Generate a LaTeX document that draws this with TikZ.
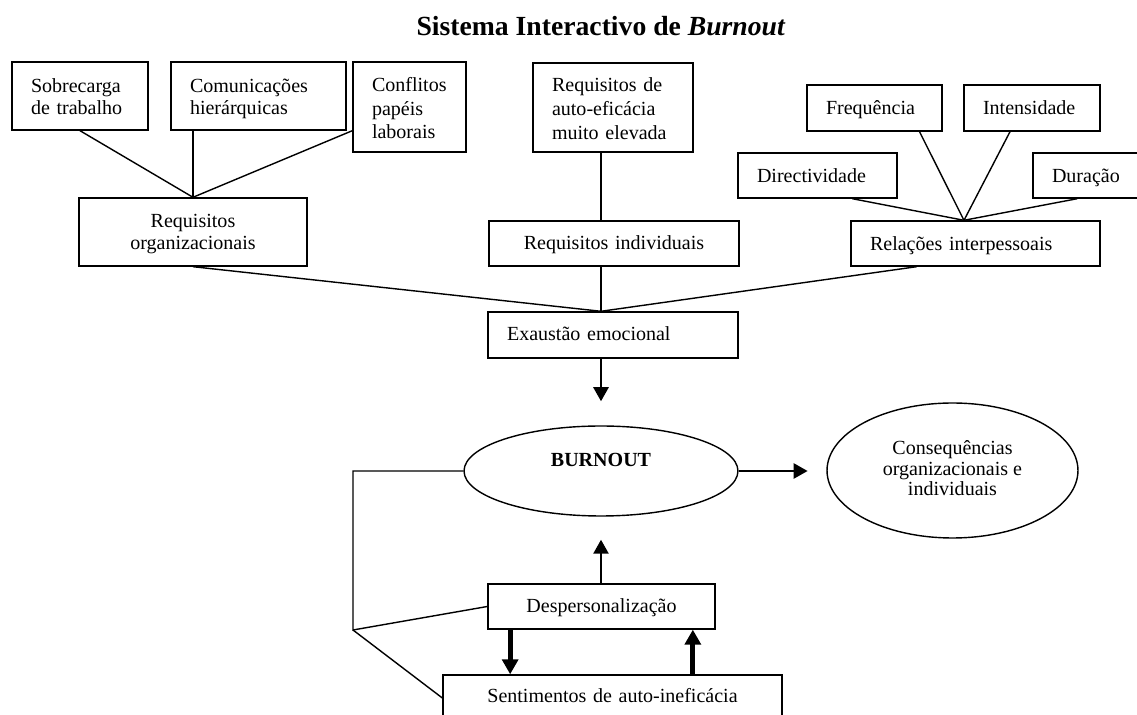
\documentclass[tikz,border=0pt]{standalone}
\usepackage{fontspec}
\setmainfont{Liberation Serif}
\usetikzlibrary{arrows.meta, shapes.geometric, calc}

\begin{document}
\begin{tikzpicture}[x=0.02cm, y=-0.02cm,
    box/.style={draw, line width=0.8pt, inner xsep=0.38cm, inner ysep=0pt, align=left,
      font=\fontsize{11.4pt}{12.5pt}\selectfont},
    cbox/.style={box, align=center, inner xsep=0pt},
    oval/.style={draw, ellipse, line width=0.8pt, inner sep=0pt, align=center,
      font=\fontsize{11.4pt}{11.7pt}\selectfont},
    basel/.style={text height=#1, text depth=0pt},
    topl/.style={text height=0pt, text depth=#1},
    link/.style={line width=0.8pt},
    arr/.style={line width=1.6pt, -{Triangle[length=8pt, width=8.5pt]}},
    fatarr/.style={line width=2.8pt, -{Triangle[length=8.5pt, width=9pt]}}]
    \useasboundingbox (0,0) rectangle (1137,715);
    \clip (0,0) rectangle (1137,715);
    \node[font=\fontsize{15.75pt}{18pt}\selectfont\bfseries, anchor=base] (T) at (601,36) {Sistema Interactivo de \textit{Burnout}};
    % requisitos organizacionais
    \node[box, topl=0.12cm, text width=1.96cm, minimum height=1.36cm] (SC) at (80,96) {Sobrecarga\\de trabalho};
    \node[box, topl=0.12cm, text width=2.74cm, minimum height=1.36cm] (CH) at (258.5,96) {Comunicações\\hierárquicas};
    \node[box, topl=0.6cm, text width=1.5cm, minimum height=1.8cm,
      font=\fontsize{11.4pt}{13.2pt}\selectfont] (CP) at (409.5,107) {Conflitos\\papéis\\laborais};
    \node[cbox, topl=0.16cm, text width=4.56cm, minimum height=1.36cm] (RO) at (193,232) {Requisitos\\organizacionais};
    % requisitos individuais
    \node[box, topl=0.62cm, text width=2.44cm, minimum height=1.78cm,
      font=\fontsize{11.4pt}{13.6pt}\selectfont] (RA) at (613,107.5) {Requisitos de\\auto-eficácia\\muito elevada};
    \node[cbox, basel=0.26cm, text width=5cm, minimum height=0.9cm] (RI) at (614,243.5) {Requisitos individuais};
    % relacoes interpessoais
    \node[box, basel=0.28cm, text width=1.94cm, minimum height=0.92cm] (FR) at (874.5,108) {Frequência};
    \node[box, basel=0.28cm, text width=1.96cm, minimum height=0.92cm] (IN) at (1032,108) {Intensidade};
    \node[box, basel=0.3cm, text width=2.42cm, minimum height=0.9cm] (DI) at (817.5,175.5) {Directividade};
    \node[box, basel=0.3cm, text width=1.46cm, minimum height=0.9cm] (DU) at (1088.5,175.5) {Duração};
    \node[box, basel=0.3cm, text width=4.22cm, minimum height=0.9cm] (RP) at (975.5,243.5) {Relações interpessoais};
    % burnout
    \node[box, basel=0.22cm, text width=4.24cm, minimum height=0.92cm] (EE) at (613,335) {Exaustão emocional};
    \node[oval, minimum width=5.48cm, minimum height=1.8cm, text depth=0.44cm] (B) at (601,471) {\textbf{BURNOUT}};
    \node[oval, basel=1.02cm, minimum width=5.02cm, minimum height=2.7cm] (C) at (952.5,470.5) {Consequências\\organizacionais e\\individuais};
    \node[cbox, basel=0.26cm, text width=4.54cm, minimum height=0.9cm] (DP) at (601.5,606.5) {Despersonalização};
    \node[cbox, basel=0.2cm, text width=6.78cm, minimum height=0.92cm] (SA) at (612.5,698) {Sentimentos de auto-ineficácia};

    \coordinate (JE) at (B |- EE.north);
    \coordinate (JR) at ($(RP.north west)!0.454!(RP.north east)$);
    \coordinate (JL) at (353,630);
    \coordinate (AE) at ($(B.north)+(0,-24)$);
    \coordinate (AC) at ($(B.east)+(69,0)$);
    \coordinate (AB) at ($(B.south)+(0,23)$);
    \coordinate (D1) at ($(DP.south west)!0.1!(DP.south east)$);
    \coordinate (D2) at ($(DP.south west)!0.9!(DP.south east)$);

    \draw[link] (SC.south) -- (RO.north);
    \draw[link] (RO.north |- CH.south) -- (RO.north);
    \draw[link] (CP.west |- SC.south) -- (RO.north);
    \draw[link] (B |- RA.south) -- (B |- RI.north);
    \draw[link] ($(DI.south west)!0.717!(DI.south east)$) -- (JR);
    \draw[link] ($(FR.south west)!0.83!(FR.south east)$) -- (JR);
    \draw[link] ($(IN.south west)!0.34!(IN.south east)$) -- (JR);
    \draw[link] ($(DU.south west)!0.4!(DU.south east)$) -- (JR);
    \draw[link] (RO.south) -- (JE);
    \draw[link] (B |- RI.south) -- (JE);
    \draw[link] ($(RP.south west)!0.265!(RP.south east)$) -- (JE);
    \draw[arr] (B |- EE.south) -- (AE);
    \draw[arr] (B.east) -- (AC);
    \draw[arr] (B |- DP.north) -- (AB);
    \draw[link] (B.west) -| (JL) -- (DP.west);
    \draw[link] (JL) -- (SA.west);
    \draw[fatarr] (D1) -- (D1 |- SA.north);
    \draw[fatarr] (D2 |- SA.north) -- (D2);
\end{tikzpicture}
\end{document}
